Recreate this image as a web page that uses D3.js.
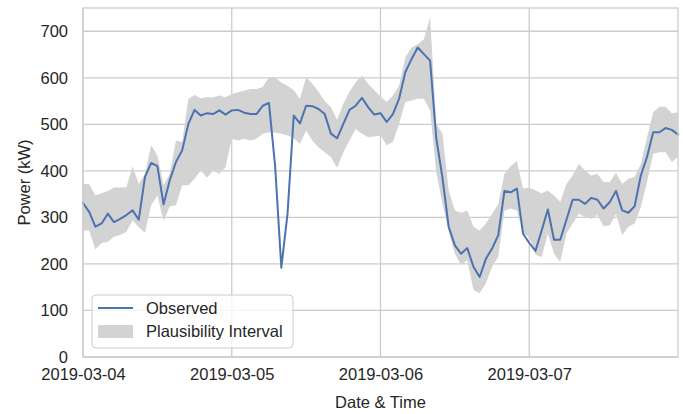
<!DOCTYPE html>
<html>
<head>
<meta charset="utf-8">
<script src="https://cdn.jsdelivr.net/npm/d3@7"></script>
<style>
  html, body { margin: 0; padding: 0; background: #fff; }
  svg { display: block; }
  text { font-family: "Liberation Sans", Arial, sans-serif; fill: #262626; }
</style>
</head>
<body>
<svg id="chart" width="683" height="414"></svg>
<script>
// ---- data (hourly, starting 2019-03-04 00:00) ----
const startTime = "2019-03-04T00:00:00";
const observed = [331,312,280,287,308,290,297,305,315,295,387,417,410,328,380,419,444,501,531,519,
  524,522,530,521,530,531,525,522,522,540,546,410,192,308,519,502,540,539,533,522,
  480,470,501,531,540,557,537,521,524,505,522,555,612,640,665,651,637,470,385,280,
  240,222,234,194,172,211,233,262,357,354,362,265,245,228,272,317,252,252,295,338,
  338,329,342,338,319,333,357,315,310,324,390,430,483,483,492,488,478];
const upper = [373,371,347,352,357,364,364,365,410,372,394,455,433,369,394,465,462,555,563,556,
  558,558,562,558,565,569,572,576,576,580,601,601,590,583,573,555,601,587,570,550,
  537,510,544,570,590,605,587,573,560,548,562,583,644,665,672,683,730,501,480,358,
  315,310,315,280,272,287,308,329,394,410,421,362,364,358,352,358,347,333,372,390,
  415,401,390,394,376,376,396,372,383,387,415,472,526,538,538,524,526];
const lower = [272,272,231,245,247,259,262,269,294,279,267,326,347,292,324,326,369,369,383,401,
  385,401,394,408,469,465,469,465,469,480,483,482,480,476,470,458,487,465,450,440,
  430,406,440,465,490,480,472,474,476,455,462,501,548,551,555,555,530,397,329,270,
  222,197,208,144,137,158,194,215,315,319,315,265,258,220,215,265,222,204,265,287,
  308,301,297,305,281,283,308,262,280,287,322,376,437,440,440,419,430];
const yTicks = [0,100,200,300,400,500,600,700];
const xTickLabels = ["2019-03-04","2019-03-05","2019-03-06","2019-03-07"];
const seriesNames = ["Observed","Plausibility Interval"];

// ---- build table ----
const t0 = new Date(startTime);
const rows = observed.map((v,i) => ({
  t: new Date(t0.getTime() + i*3600e3), obs: v, lo: lower[i], hi: upper[i]
}));

const W = 683, H = 414;
const m = {left: 83, right: 5, top: 8, bottom: 57};
const svg = d3.select("#chart");

const x = d3.scaleTime()
  .domain(d3.extent(rows, d => d.t))
  .range([m.left, W - m.right]);
const y = d3.scaleLinear().domain([0, 750]).range([H - m.bottom, m.top]);

const gridColor = "#cccccc";

// grid
const g = svg.append("g");
const xTickDates = xTickLabels.map(s => new Date(s + "T00:00:00"));
g.selectAll(".vg").data(xTickDates).join("line")
  .attr("x1", d => x(d)).attr("x2", d => x(d))
  .attr("y1", m.top).attr("y2", H - m.bottom)
  .attr("stroke", gridColor).attr("stroke-width", 1.3);
g.selectAll(".hg").data(yTicks).join("line")
  .attr("x1", m.left).attr("x2", W - m.right)
  .attr("y1", d => y(d)).attr("y2", d => y(d))
  .attr("stroke", gridColor).attr("stroke-width", 1.3);

// band
const area = d3.area().x(d => x(d.t)).y0(d => y(d.lo)).y1(d => y(d.hi));
svg.append("path").datum(rows).attr("d", area).attr("fill", "#d3d3d3");

// line
const line = d3.line().x(d => x(d.t)).y(d => y(d.obs));
svg.append("path").datum(rows).attr("d", line)
  .attr("fill", "none").attr("stroke", "#4c72b0").attr("stroke-width", 2)
  .attr("stroke-linejoin", "round").attr("stroke-linecap", "square");

// spines
svg.append("rect")
  .attr("x", m.left).attr("y", m.top)
  .attr("width", W - m.left - m.right).attr("height", H - m.top - m.bottom)
  .attr("fill", "none").attr("stroke", gridColor).attr("stroke-width", 1.3);

// axes (tick labels via d3 axes)
const fs = "16.5px";
const yAxis = d3.axisLeft(y).tickValues(yTicks).tickSize(0).tickPadding(15);
const ya = svg.append("g").attr("transform", `translate(${m.left},0)`).call(yAxis);
ya.select(".domain").remove();
ya.selectAll("text").attr("font-size", fs).attr("fill", "#262626")
  .attr("font-family", '"Liberation Sans", Arial, sans-serif');

const xAxis = d3.axisBottom(x).tickValues(xTickDates).tickSize(0).tickPadding(11)
  .tickFormat((d,i) => xTickLabels[i]);
const xa = svg.append("g").attr("transform", `translate(0,${H - m.bottom})`).call(xAxis);
xa.select(".domain").remove();
xa.selectAll("text").attr("font-size", fs).attr("fill", "#262626")
  .attr("font-family", '"Liberation Sans", Arial, sans-serif');

// axis titles
svg.append("text").attr("x", (m.left + W - m.right)/2).attr("y", 408)
  .attr("text-anchor", "middle").attr("font-size", fs).text("Date & Time");
svg.append("text")
  .attr("transform", `translate(30,${(m.top + H - m.bottom)/2}) rotate(-90)`)
  .attr("text-anchor", "middle").attr("font-size", fs).text("Power (kW)");

// legend
const lg = svg.append("g");
lg.append("rect").attr("x", 92).attr("y", 295).attr("width", 201).attr("height", 53)
  .attr("rx", 4).attr("fill", "#fff").attr("fill-opacity", 0.8)
  .attr("stroke", gridColor).attr("stroke-width", 1);
lg.append("line").attr("x1", 98).attr("x2", 133).attr("y1", 308).attr("y2", 308)
  .attr("stroke", "#4c72b0").attr("stroke-width", 2);
lg.append("rect").attr("x", 98).attr("y", 325).attr("width", 35).attr("height", 13)
  .attr("fill", "#d3d3d3");
lg.append("text").attr("x", 146).attr("y", 314).attr("font-size", fs).text(seriesNames[0]);
lg.append("text").attr("x", 146).attr("y", 337).attr("font-size", fs).text(seriesNames[1]);
</script>
</body>
</html>
